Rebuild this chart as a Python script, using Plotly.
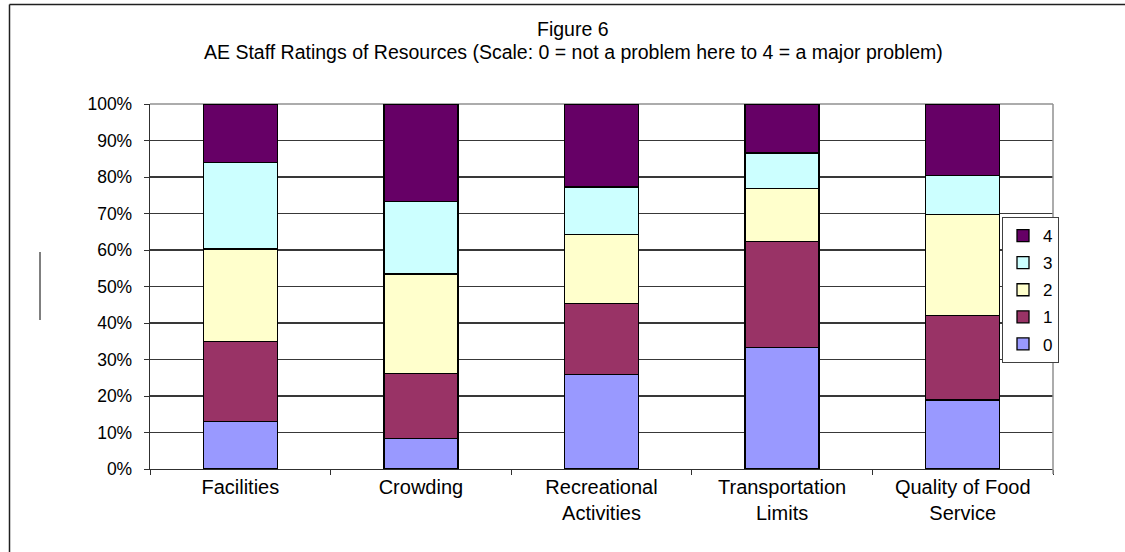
import plotly.graph_objects as go

categories = ["Facilities", "Crowding", "Recreational<br>Activities",
              "Transportation<br>Limits", "Quality of Food<br>Service"]
series_names = ["0", "1", "2", "3", "4"]
r0 = [13.0, 8.4, 25.9, 33.3, 18.9]
r1 = [22.0, 17.7, 19.4, 29.1, 23.2]
r2 = [25.3, 27.3, 18.9, 14.4, 27.6]
r3 = [23.6, 19.9, 13.1, 9.8, 10.7]
r4 = [16.1, 26.7, 22.7, 13.4, 19.6]
series_values = [r0, r1, r2, r3, r4]
colors = ["#9999FF", "#993366", "#FFFFCC", "#CCFFFF", "#660066"]
y_ticks = list(range(0, 101, 10))
y_tick_labels = [f"{v}%" for v in y_ticks]

FONT = "Liberation Sans, Arial, sans-serif"

fig = go.Figure()
n = len(series_names)
for i, (name, vals, col) in enumerate(zip(series_names, series_values, colors)):
    fig.add_trace(go.Bar(
        x=categories, y=vals, name=name, legendgroup=name,
        legendrank=1000 + (n - i) * 10,
        marker=dict(color=col, line=dict(color="black", width=1.3)),
        hoverinfo="skip",
    ))

W, H = 1125, 552
L, R, T, B = 150, 1053, 104, 469

fig.update_layout(
    width=W, height=H,
    margin=dict(l=L, r=W - R, t=T, b=H - B, pad=0),
    barmode="stack", bargap=0.59,
    paper_bgcolor="white", plot_bgcolor="white",
    font=dict(family=FONT, color="black", size=17),
    showlegend=True,
    legend=dict(
        traceorder="grouped",
        x=(1002 - L) / (R - L), y=(B - 217) / (B - T),
        xanchor="left", yanchor="top",
        bgcolor="white", bordercolor="#404040", borderwidth=1,
        font=dict(size=17, family=FONT), tracegroupgap=2,
        itemwidth=30,
    ),
    xaxis=dict(
        showline=True, linecolor="#303030", linewidth=1.3,
        ticks="outside", tickson="boundaries", ticklen=5,
        tickcolor="#303030", tickfont=dict(size=20, family=FONT),
        showgrid=False, fixedrange=True,
    ),
    yaxis=dict(
        range=[0, 100], tickmode="array", tickvals=y_ticks, ticktext=y_tick_labels,
        showline=True, linecolor="#303030", linewidth=1.3,
        ticks="outside", ticklen=5, tickcolor="#303030",
        showgrid=True, gridcolor="#383838", gridwidth=1.1,
        tickfont=dict(size=17.5, family=FONT), ticklabelstandoff=8,
        zeroline=False, fixedrange=True,
    ),
)

def px(xp):
    return (xp - L) / (R - L)

def py(yp):
    return (B - yp) / (B - T)

# Title lines
fig.add_annotation(text="Figure 6", xref="paper", yref="paper",
                   x=px(573), y=py(29.5), xanchor="center", yanchor="middle",
                   showarrow=False, font=dict(size=19.5, family=FONT))
fig.add_annotation(text="AE Staff Ratings of Resources (Scale: 0 = not a problem here to 4 = a major problem)",
                   xref="paper", yref="paper",
                   x=px(573), y=py(51.5), xanchor="center", yanchor="middle",
                   showarrow=False, font=dict(size=19.5, family=FONT))

# plot area top and right border (gray)
fig.add_shape(type="line", xref="paper", yref="paper", x0=0, x1=1, y0=1, y1=1,
              line=dict(color="#909090", width=1.5), layer="below")
fig.add_shape(type="line", xref="paper", yref="paper", x0=1, x1=1, y0=py(474), y1=1,
              line=dict(color="#909090", width=1.5), layer="above")

# outer chart frame (extends beyond the visible area on right and bottom)
fig.add_shape(type="line", xref="paper", yref="paper", x0=px(9.5), x1=px(1140), y0=py(4.5), y1=py(4.5),
              line=dict(color="#202020", width=1.5))
fig.add_shape(type="line", xref="paper", yref="paper", x0=px(9.5), x1=px(9.5), y0=py(4.5), y1=py(560),
              line=dict(color="#202020", width=1.5))
# small stray vertical line
fig.add_shape(type="line", xref="paper", yref="paper", x0=px(40), x1=px(40), y0=py(252), y1=py(320),
              line=dict(color="black", width=1))

fig.write_html("out.html",
               config={"displayModeBar": False, "staticPlot": True},
               post_script="document.body.style.margin='0px';document.body.style.overflow='hidden';")
